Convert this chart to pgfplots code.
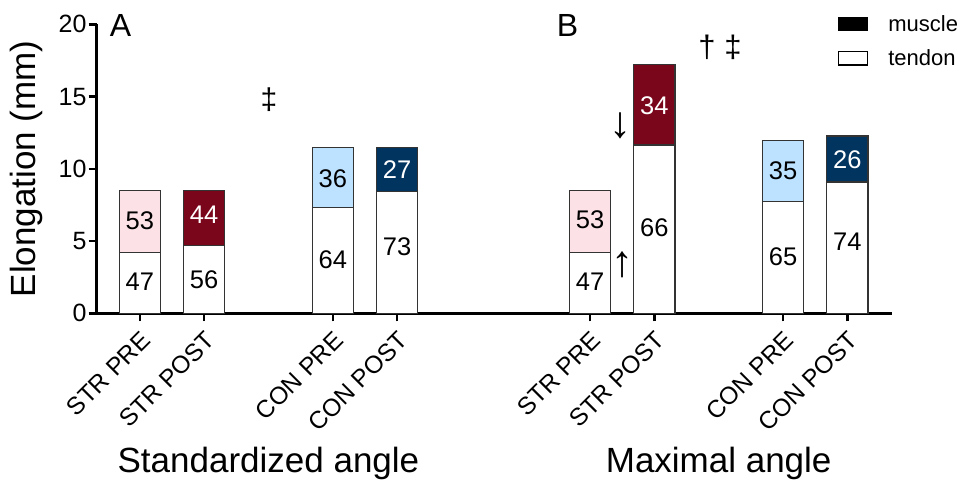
\documentclass[border=0pt]{standalone}
\usepackage{fontspec}
\setmainfont{Liberation Sans}
\usepackage{pgfplots}
\pgfplotsset{compat=1.18}
\definecolor{strpre}{RGB}{252,226,231}
\definecolor{strpost}{RGB}{122,6,28}
\definecolor{conpre}{RGB}{189,226,255}
\definecolor{conpost}{RGB}{2,52,96}
\definecolor{edge}{RGB}{51,51,51}
\begin{document}
\begin{tikzpicture}
\begin{axis}[
  at={(96.7pt,169.7pt)}, anchor=south west,
  scale only axis, width=795pt, height=289pt,
  xmin=-0.67, xmax=11.69, ymin=0, ymax=20,
  axis x line*=bottom, axis y line*=left,
  axis line style={-, line width=2.5pt, black},
  clip=false,
  ytick={0,5,10,15,20},
  xtick={0,1,3,4,7,8,10,11},
  xticklabels={STR PRE,STR POST,CON PRE,CON POST,STR PRE,STR POST,CON PRE,CON POST},
  tick align=outside, major tick length=8pt,
  major tick style={line width=2.5pt, black},
  xtick pos=bottom, ytick pos=left,
  /pgf/number format/assume math mode=true,
  yticklabel style={font=\fontsize{25}{30}\selectfont, inner sep=2pt},
  xticklabel shift=7pt,
  xticklabel style={rotate=45, anchor=north east, font=\fontsize{24.5}{29}\selectfont, inner sep=1pt},
  ylabel={Elongation (mm)},
  ylabel style={at={(axis description cs:-0.0886,0.5)}, anchor=center, font=\fontsize{35}{42}\selectfont},
  legend style={draw=none, fill=none, at={(axis description cs:0.9316,1.039)}, anchor=north west,
    font=\fontsize{22}{26}\selectfont, row sep=13pt, inner sep=0pt},
  legend cell align=left,
  legend image code/.code={\draw[#1, line width=1.3pt] (0pt,-6.65pt) rectangle (29pt,6.65pt); \path (48pt,0pt);},
]
\addlegendimage{fill=black, draw=black}
\addlegendentry{muscle}
\addlegendimage{fill=white, draw=black}
\addlegendentry{tendon}
% totals (muscle on top of tendon)
\addplot[forget plot, ybar, bar width=0.64, bar shift=0pt, fill=strpre, draw=edge, line width=1.3pt] coordinates {(0,8.49) (7,8.49)};
\addplot[forget plot, ybar, bar width=0.64, bar shift=0pt, fill=strpost, draw=edge, line width=1.3pt] coordinates {(1,8.49) (8,17.23)};
\addplot[forget plot, ybar, bar width=0.64, bar shift=0pt, fill=conpre, draw=edge, line width=1.3pt] coordinates {(3,11.49) (10,11.95)};
\addplot[forget plot, ybar, bar width=0.64, bar shift=0pt, fill=conpost, draw=edge, line width=1.3pt] coordinates {(4,11.49) (11,12.27)};
% tendon
\addplot[forget plot, ybar, bar width=0.64, bar shift=0pt, fill=white, draw=edge, line width=1.3pt] coordinates {(0,4.22) (1,4.68) (3,7.34) (4,8.42) (7,4.22) (8,11.65) (10,7.75) (11,9.09)};
% percentage labels
\addplot[forget plot, only marks, mark=none, nodes near coords, point meta=explicit symbolic,
  nodes near coords style={anchor=center, font=\fontsize{25.5}{30}\selectfont, text=black}]
  table[meta=label] {
x y label
0 2.19 47
0 6.41 53
1 2.30 56
3 3.69 64
3 9.34 36
4 4.60 73
7 2.19 47
7 6.46 53
8 5.92 66
10 3.92 65
10 9.85 35
11 4.96 74
};
\addplot[forget plot, only marks, mark=none, nodes near coords, point meta=explicit symbolic,
  nodes near coords style={anchor=center, font=\fontsize{25.5}{30}\selectfont, text=white}]
  table[meta=label] {
x y label
1 6.80 44
4 9.92 27
8 14.35 34
11 10.66 26
};
% annotations
\node[anchor=base west, font=\fontsize{32}{38}\selectfont, inner sep=0pt] at (axis cs:-0.47,19.14) {A};
\node[anchor=base west, font=\fontsize{32}{38}\selectfont, inner sep=0pt] at (axis cs:6.48,19.14) {B};
\node[anchor=center, font=\fontsize{30}{36}\selectfont, inner sep=0pt] at (axis cs:2.01,14.76) {‡};
\node[anchor=center, font=\fontsize{31}{36}\selectfont, inner sep=0pt] at (axis cs:9.02,18.4) {† ‡};
\node[anchor=center, font=\fontsize{44}{50}\selectfont, inner sep=0pt] at (axis cs:7.477,12.98) {↓};
\node[anchor=center, font=\fontsize{44}{50}\selectfont, inner sep=0pt] at (axis cs:7.50,3.34) {↑};
\node[anchor=base, font=\fontsize{35}{42}\selectfont, inner sep=0pt] at (axis cs:2,-11.05) {Standardized angle};
\node[anchor=base, font=\fontsize{35}{42}\selectfont, inner sep=0pt] at (axis cs:9,-11.05) {Maximal angle};
\end{axis}
\pgfresetboundingbox
\path[use as bounding box] (0,0) rectangle (960pt,483pt);
\end{tikzpicture}
\end{document}
